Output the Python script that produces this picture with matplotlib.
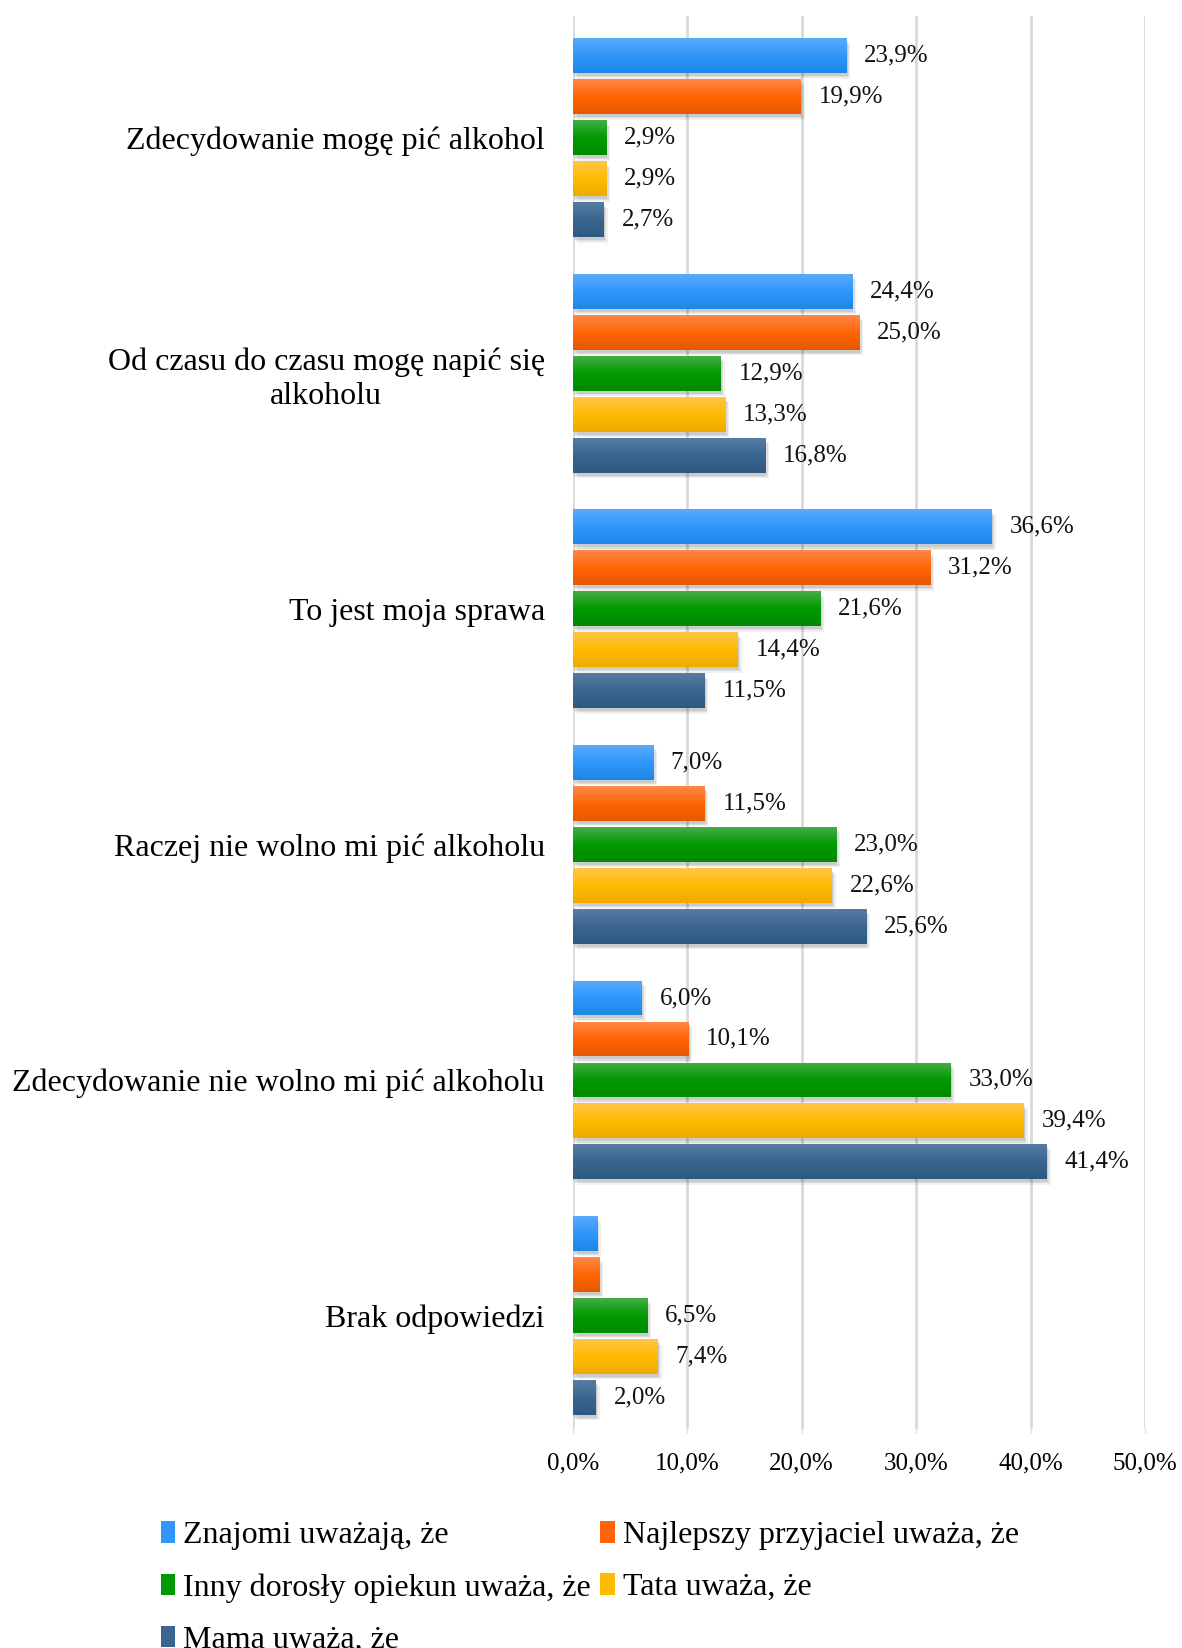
import numpy as np
import matplotlib
matplotlib.use("Agg")
import matplotlib.pyplot as plt
from matplotlib.patches import Rectangle
from matplotlib.colors import LinearSegmentedColormap
import matplotlib.patheffects as pe

plt.rcParams['font.family'] = ['Liberation Serif', 'DejaVu Serif']

categories = [
    "Zdecydowanie mogę pić alkohol",
    "Od czasu do czasu mogę napić się\nalkoholu",
    "To jest moja sprawa",
    "Raczej nie wolno mi pić alkoholu",
    "Zdecydowanie nie wolno mi pić alkoholu",
    "Brak odpowiedzi",
]

series_names = [
    "Znajomi uważają, że",
    "Najlepszy przyjaciel uważa, że",
    "Inny dorosły opiekun uważa, że",
    "Tata uważa, że",
    "Mama uważa, że",
]

znajomi = [23.9, 24.4, 36.6, 7.0, 6.0, 2.1]
przyjaciel = [19.9, 25.0, 31.2, 11.5, 10.1, 2.3]
opiekun = [2.9, 12.9, 21.6, 23.0, 33.0, 6.5]
tata = [2.9, 13.3, 14.4, 22.6, 39.4, 7.4]
mama = [2.7, 16.8, 11.5, 25.6, 41.4, 2.0]

# which values get a printed label (the two small "Brak odpowiedzi" bars have none)
show_label = [
    [True] * 5 + [False],
    [True] * 5 + [False],
    [True] * 6,
    [True] * 6,
    [True] * 6,
]

xticks = [0, 10, 20, 30, 40, 50]

series = [znajomi, przyjaciel, opiekun, tata, mama]

# (top, middle, bottom) shades for the vertical gradient of each series
shades = [
    ("#5aaafc", "#2f97fb", "#1f86e6"),
    ("#ff8848", "#ff6505", "#e65800"),
    ("#45ad45", "#009a00", "#008a00"),
    ("#ffc54a", "#ffbb00", "#eeaa00"),
    ("#577ca3", "#3a6590", "#2e5a82"),
]

fig = plt.figure(figsize=(11.82, 16.48), dpi=100)
ax = fig.add_axes([0.4845, 0.1329, 0.9687 - 0.4845, 0.9904 - 0.1329])

step = 0.174
height = 0.148
y = np.arange(len(categories))

for k, (vals, shade) in enumerate(zip(series, shades)):
    pos = y + (k - 2) * step
    bars = ax.barh(pos, vals, height=height, color=shade[1], zorder=3,
                   linewidth=0)
    cmap = LinearSegmentedColormap.from_list("g%d" % k, list(shade))
    grad = np.linspace(0, 1, 64).reshape(-1, 1)
    for b in bars:
        b.set_path_effects([
            pe.SimplePatchShadow(offset=(3, -4), shadow_rgbFace="k", alpha=0.06),
            pe.SimplePatchShadow(offset=(2, -3), shadow_rgbFace="k", alpha=0.08),
            pe.SimplePatchShadow(offset=(1, -2), shadow_rgbFace="k", alpha=0.08),
            pe.Normal()])
        x0, y0 = b.get_x(), b.get_y()
        w, h = b.get_width(), b.get_height()
        im = ax.imshow(grad, cmap=cmap, aspect="auto",
                       extent=[x0, x0 + w, y0 + h, y0], zorder=4,
                       interpolation="bilinear")
        im.set_clip_path(b)
    for b, v, s in zip(bars, vals, show_label[k]):
        if s:
            ax.annotate(("%.1f%%" % v).replace(".", ","),
                        xy=(b.get_width(), b.get_y() + b.get_height() / 2),
                        xytext=(13, 0), textcoords="offset points",
                        ha="left", va="center", fontsize=18, color="#111111")

ax.set_xlim(0, 50)
ax.set_ylim(len(categories) - 0.518, -0.518)
ax.set_xticks(xticks)
ax.set_xticklabels([("%.1f%%" % t).replace(".", ",") for t in xticks], fontsize=18)
ax.set_yticks(y)
ax.set_yticklabels(categories, fontsize=23, multialignment="center")
ax.tick_params(axis="y", length=0, pad=20)
ax.tick_params(axis="x", length=3, color="#d9d9d9", pad=14)
ax.xaxis.grid(True, color="#d9d9d9", linewidth=2, zorder=0)
ax.set_axisbelow(True)
for sp in ax.spines.values():
    sp.set_visible(False)

handles = [Rectangle((0, 0), 1, 1, facecolor=s[1], edgecolor="none") for s in shades]
order = [0, 2, 4, 1, 3]
fig.legend([handles[i] for i in order], [series_names[i] for i in order],
           ncol=2, loc="upper left", bbox_to_anchor=(0.136, 0.077),
           frameon=False, fontsize=23, handlelength=0.45, handleheight=0.65,
           handletextpad=0.25, columnspacing=0.3, labelspacing=0.72,
           borderpad=0, borderaxespad=0)

fig.savefig("out.png", dpi=100)
